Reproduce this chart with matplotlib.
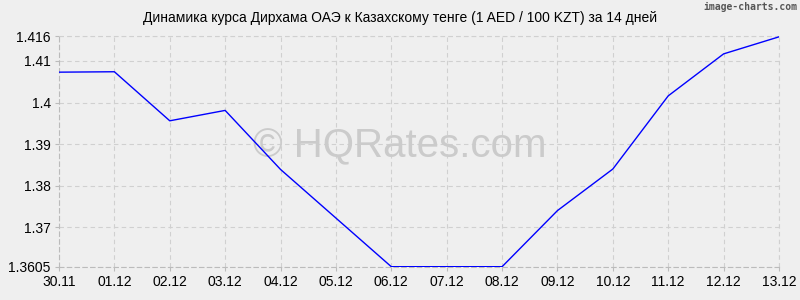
import matplotlib.pyplot as plt

plt.rcParams['font.family'] = ['Liberation Sans', 'DejaVu Sans']

# dates and AED/KZT rate (per 100 KZT)
dates = ['30.11', '01.12', '02.12', '03.12', '04.12', '05.12', '06.12',
         '07.12', '08.12', '09.12', '10.12', '11.12', '12.12', '13.12']
rates = [1.4073, 1.4074, 1.3956, 1.3981, 1.3839, 1.3722, 1.3605,
         1.3605, 1.3605, 1.3740, 1.3840, 1.4016, 1.4117, 1.4158]
yticks = [1.3605, 1.37, 1.38, 1.39, 1.4, 1.41, 1.416]
ylabels = ['1.3605', '1.37', '1.38', '1.39', '1.4', '1.41', '1.416']

bg = '#efefef'
fig = plt.figure(figsize=(8, 3), dpi=100, facecolor=bg)
ax = fig.add_axes([0.07375, 0.111, 0.9, 0.769], facecolor=bg)

x = list(range(len(dates)))
ax.plot(x, rates, color='#0000ff', lw=1, zorder=3)

ax.set_xlim(0, len(dates) - 1)
ax.set_ylim(yticks[0], yticks[-1])
ax.set_xticks(x)
ax.set_xticklabels(dates)
ax.set_yticks(yticks)
ax.set_yticklabels(ylabels)
ax.tick_params(labelsize=10, length=3, color='#bbbbbb', pad=3, labelcolor='#000000')

ax.grid(True, color='#d0d0d0', lw=0.8, linestyle=(0, (4, 3)))
for side in ['top', 'right']:
    ax.spines[side].set_visible(False)
for side in ['left', 'bottom']:
    ax.spines[side].set_color('#bbbbbb')
    ax.spines[side].set_linestyle((0, (4, 3)))
    ax.spines[side].set_linewidth(0.8)

# top and right borders are just grid lines at the limits
ax.axhline(yticks[-1], color='#d0d0d0', lw=0.8, linestyle=(0, (4, 3)), clip_on=False)
ax.axvline(len(dates) - 1, color='#d0d0d0', lw=0.8, linestyle=(0, (4, 3)), clip_on=False)

# watermark, centred on the figure but under the line
ax.text(0.5, 0.513, '© HQRates.com', transform=fig.transFigure, ha='center', va='center',
        fontsize=29, color='#cbcbcb', zorder=2)

fig.text(0.5, 0.94, 'Динамика курса Дирхама ОАЭ к Казахскому тенге (1 AED / 100 KZT) за 14 дней',
         ha='center', va='center', fontsize=10, color='#000000')
fig.text(0.997, 0.977, 'image-charts.com', ha='right', va='center', fontsize=7,
         family='DejaVu Sans Mono', weight='bold', color='#555555')

fig.savefig('out.png', dpi=100, facecolor=bg)
